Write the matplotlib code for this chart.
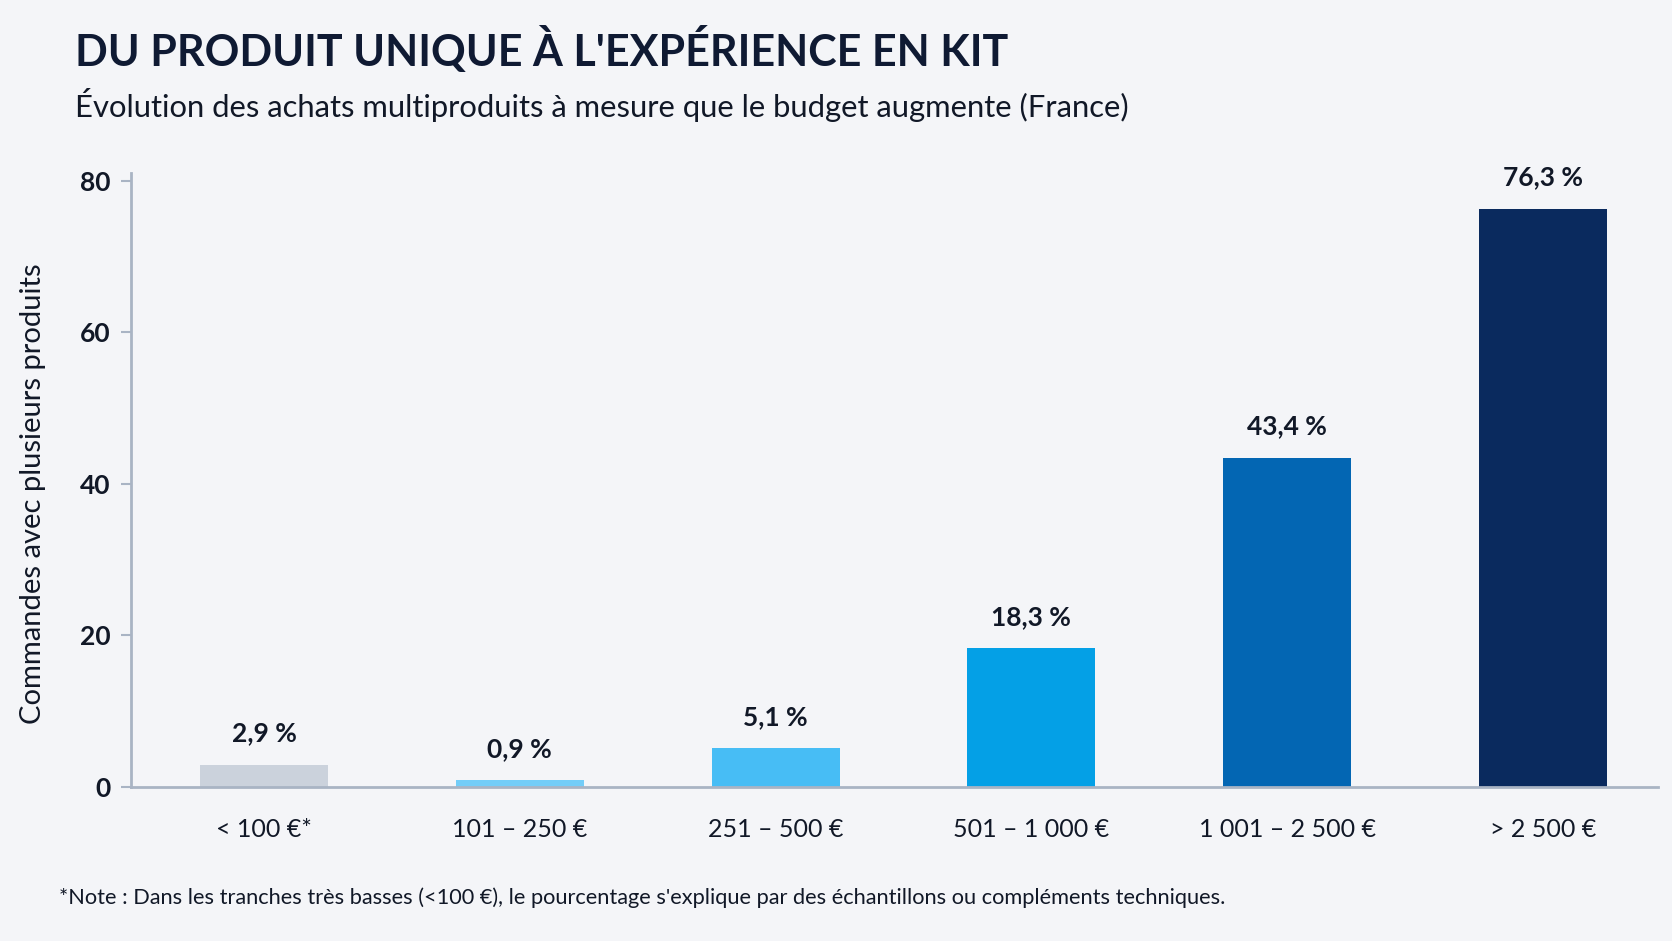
import matplotlib
matplotlib.use('Agg')
import matplotlib.pyplot as plt

# Data
categories = ['< 100 €*', '101 – 250 €', '251 – 500 €', '501 – 1 000 €', '1 001 – 2 500 €', '> 2 500 €']
shares = [2.9, 0.9, 5.1, 18.3, 43.4, 76.3]
bar_labels = ['2,9 %', '0,9 %', '5,1 %', '18,3 %', '43,4 %', '76,3 %']
y_ticks = [0, 20, 40, 60, 80]

colors = ['#cbd2dc', '#73cdf8', '#47bdf5', '#04a0e6', '#0366b3', '#0a2a5e']
bg = '#f4f5f8'
ink = '#111827'
spine = '#a9b4c4'

plt.rcParams['font.family'] = ['Lato', 'DejaVu Sans']

fig = plt.figure(figsize=(16.72, 9.41), dpi=100, facecolor=bg)
ax = fig.add_axes([131 / 1672, 1 - 787 / 941, (1658 - 131) / 1672, (787 - 173) / 941])
ax.set_facecolor(bg)

x = list(range(len(categories)))
ax.bar(x, shares, width=0.5, color=colors, zorder=2)

# value labels above bars
for xi, val, lab in zip(x, shares, bar_labels):
    ax.annotate(lab, (xi, val), xytext=(0, 14), textcoords='offset points',
                ha='center', va='bottom', fontsize=19, fontweight='bold', color=ink)

ax.set_xlim(-0.52, 5.45)
ax.set_ylim(0, 81)
ax.set_yticks(y_ticks)
ax.set_yticklabels([str(t) for t in y_ticks], fontsize=19, fontweight='bold', color=ink)
ax.set_xticks(x)
ax.set_xticklabels(categories, fontsize=18, color=ink)
ax.tick_params(axis='x', length=0, pad=22)
ax.tick_params(axis='y', length=7, width=1.5, color=spine, pad=8)

for side in ['top', 'right']:
    ax.spines[side].set_visible(False)
for side in ['left', 'bottom']:
    ax.spines[side].set_color(spine)
    ax.spines[side].set_linewidth(2)

ax.set_ylabel('Commandes avec plusieurs produits', fontsize=21, color=ink, va='center')
ax.yaxis.set_label_coords(-98 / 1527, 0.478)

# titles
fig.text(75 / 1672, 1 - 66 / 941, "DU PRODUIT UNIQUE À L'EXPÉRIENCE EN KIT",
         fontsize=31, fontweight='bold', color='#0f1a33', ha='left', va='baseline')
fig.text(75 / 1672, 1 - 117 / 941, 'Évolution des achats multiproduits à mesure que le budget augmente (France)',
         fontsize=22.3, color=ink, ha='left', va='baseline')

# footnote
fig.text(59 / 1672, 1 - 904 / 941,
         "*Note : Dans les tranches très basses (<100 €), le pourcentage s'explique par des échantillons ou compléments techniques.",
         fontsize=15.7, color=ink, ha='left', va='baseline')

fig.savefig('out.png', dpi=100, facecolor=bg)
